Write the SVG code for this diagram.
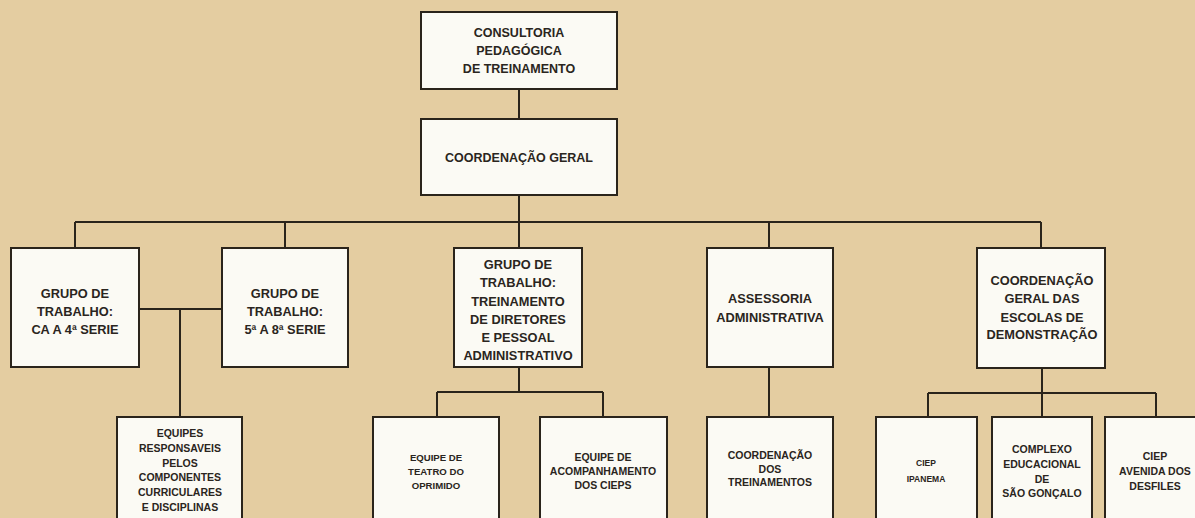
<svg xmlns="http://www.w3.org/2000/svg" width="1195" height="518" viewBox="0 0 1195 518">
<style>
.bg{fill:#e4cda1}
.box{fill:#fbfaf4;stroke:#2a241b;stroke-width:2}
.ln{fill:none;stroke:#2a241b;stroke-width:2}
text{font-family:"Liberation Sans",Arial,sans-serif;font-weight:bold;fill:#2a2520;text-anchor:middle}
.t1{font-size:12.5px}
.t2{font-size:12.8px}
.t3{font-size:10.5px}
.t4{font-size:9.6px}
.t5{font-size:8.5px}
</style>
<rect class="bg" x="0" y="0" width="1195" height="518"/>
<g id="connectors">
<path class="ln" d="M519 89V119M519 195V222M75 222H1041M75 222V248M285 222V248M519 222V248M769 222V248M1041 222V248"/>
<path class="ln" d="M139 309H222M180 309V417"/>
<path class="ln" d="M519 367V392M437 392H603M437 392V417M603 392V417"/>
<path class="ln" d="M769 367V417"/>
<path class="ln" d="M1042 368V393M928 393H1156M928 393V417M1042 393V417M1156 393V417"/>
</g>
<g id="consultoria">
<rect class="box" x="421" y="12" width="196" height="77"/>
<text class="t1" x="519" y="37">CONSULTORIA</text>
<text class="t1" x="519" y="55">PEDAGÓGICA</text>
<text class="t1" x="519" y="73">DE TREINAMENTO</text>
</g>
<g id="coordenacao-geral">
<rect class="box" x="421" y="119" width="196" height="76"/>
<text class="t1" x="519" y="162">COORDENAÇÃO GERAL</text>
</g>
<g id="gt-ca">
<rect class="box" x="11" y="248" width="128" height="119"/>
<text class="t2" x="75" y="298">GRUPO DE</text>
<text class="t2" x="75" y="316">TRABALHO:</text>
<text class="t2" x="75" y="334">CA A 4ª SERIE</text>
</g>
<g id="gt-5a8">
<rect class="box" x="222" y="248" width="126" height="119"/>
<text class="t2" x="285" y="298">GRUPO DE</text>
<text class="t2" x="285" y="316">TRABALHO:</text>
<text class="t2" x="285" y="334">5ª A 8ª SERIE</text>
</g>
<g id="gt-treinamento">
<rect class="box" x="454" y="248" width="128" height="119"/>
<text class="t2" x="518" y="269">GRUPO DE</text>
<text class="t2" x="518" y="287">TRABALHO:</text>
<text class="t2" x="518" y="305.5">TREINAMENTO</text>
<text class="t2" x="518" y="324">DE DIRETORES</text>
<text class="t2" x="518" y="342">E PESSOAL</text>
<text class="t2" x="518" y="360">ADMINISTRATIVO</text>
</g>
<g id="assessoria">
<rect class="box" x="707" y="248" width="126" height="119"/>
<text class="t2" x="770" y="303">ASSESSORIA</text>
<text class="t2" x="770" y="322">ADMINISTRATIVA</text>
</g>
<g id="coord-escolas">
<rect class="box" x="977" y="248" width="128" height="120"/>
<text class="t2" x="1042" y="285">COORDENAÇÃO</text>
<text class="t2" x="1042" y="303">GERAL DAS</text>
<text class="t2" x="1042" y="322">ESCOLAS DE</text>
<text class="t2" x="1042" y="339">DEMONSTRAÇÃO</text>
</g>
<g id="equipes">
<rect class="box" x="117" y="417" width="125" height="115"/>
<text class="t3" x="180" y="437">EQUIPES</text>
<text class="t3" x="180" y="452">RESPONSAVEIS</text>
<text class="t3" x="180" y="466.5">PELOS</text>
<text class="t3" x="180" y="481">COMPONENTES</text>
<text class="t3" x="180" y="496">CURRICULARES</text>
<text class="t3" x="180" y="511">E DISCIPLINAS</text>
</g>
<g id="teatro">
<rect class="box" x="373" y="417" width="126" height="115"/>
<text class="t4" x="436" y="461">EQUIPE DE</text>
<text class="t4" x="436" y="475">TEATRO DO</text>
<text class="t4" x="436" y="489">OPRIMIDO</text>
</g>
<g id="acompanhamento">
<rect class="box" x="540" y="417" width="127" height="115"/>
<text class="t3" x="603" y="461">EQUIPE DE</text>
<text class="t3" x="603" y="475">ACOMPANHAMENTO</text>
<text class="t3" x="603" y="489">DOS CIEPS</text>
</g>
<g id="coord-treinamentos">
<rect class="box" x="707" y="417" width="126" height="115"/>
<text class="t3" x="770" y="459">COORDENAÇÃO</text>
<text class="t3" x="770" y="472.5">DOS</text>
<text class="t3" x="770" y="486">TREINAMENTOS</text>
</g>
<g id="ciep-ipanema">
<rect class="box" x="876" y="417" width="101" height="115"/>
<text class="t5" x="926" y="466">CIEP</text>
<text class="t5" x="926" y="482">IPANEMA</text>
</g>
<g id="complexo">
<rect class="box" x="992" y="417" width="100" height="115"/>
<text class="t3" x="1042" y="453">COMPLEXO</text>
<text class="t3" x="1042" y="468">EDUCACIONAL</text>
<text class="t3" x="1042" y="483">DE</text>
<text class="t3" x="1042" y="497">SÃO GONÇALO</text>
</g>
<g id="ciep-avenida">
<rect class="box" x="1105" y="417" width="100" height="115"/>
<text class="t3" x="1155" y="460">CIEP</text>
<text class="t3" x="1155" y="475">AVENIDA DOS</text>
<text class="t3" x="1155" y="490">DESFILES</text>
</g>
</svg>
